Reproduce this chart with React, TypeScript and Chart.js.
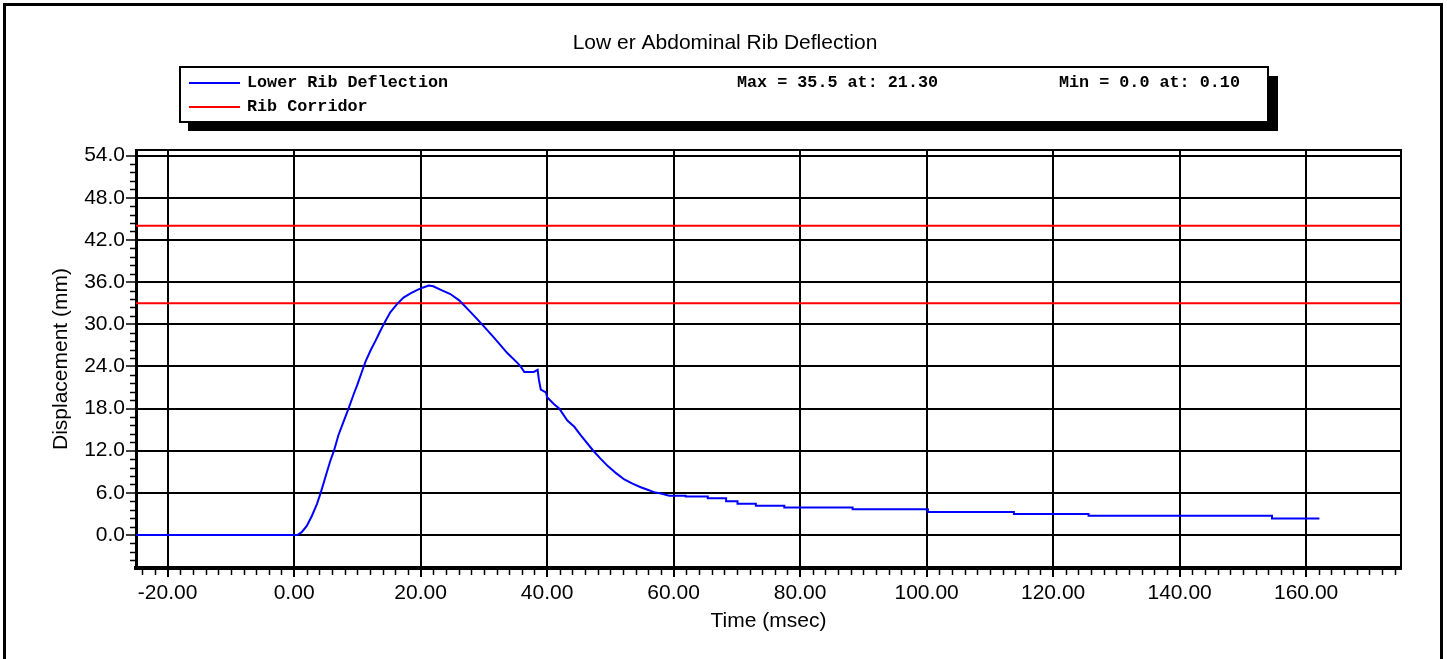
import React, { useEffect, useRef } from "react";
import { Chart, registerables } from "chart.js";

Chart.register(...registerables);

// ---------------- data ----------------
const chartTitle = "Low er Abdominal Rib Deflection";
const seriesLabel = "Lower Rib Deflection";
const corridorLabel = "Rib Corridor";
const xAxisTitle = "Time (msec)";
const yAxisTitle = "Displacement (mm)";

const timeMs = [
  -25, 0.5, 1.2, 2.0, 2.8, 3.6, 4.2, 4.9, 5.7, 6.3, 7.0, 7.8, 8.6, 9.4, 10.0, 10.7, 11.3, 12.1, 12.9,
  13.6, 14.4, 15.2, 16.3, 17.3, 18.4, 19.5, 20.3, 21.3, 22.0, 23.2, 24.7, 26.1, 27.6, 29.5, 31.6,
  33.7, 35.3, 35.8, 36.4, 37.9, 38.5, 38.7, 39.0, 39.8, 40.0, 41.1, 41.9, 43.2, 44.3, 45.3, 47.2,
  48.4, 49.6, 50.9, 52.2, 53.5, 54.8, 56.0, 56.9, 58.0, 59.3, 61.9, 61.9, 65.4, 65.4, 68.3, 68.3,
  70.1, 70.1, 73.0, 73.0, 77.5, 77.5, 88.3, 88.3, 100.2, 100.2, 113.8, 113.8, 125.6, 125.6, 154.6,
  154.6, 162.1,
];
const deflectionMm = [
  0, 0, 0.4, 1.3, 2.7, 4.4, 6.0, 8.1, 10.5, 12.0, 14.2, 16.1, 18.0, 20.0, 21.4, 23.2, 24.7, 26.3, 27.7,
  29.0, 30.4, 31.7, 32.9, 33.8, 34.4, 34.9, 35.2, 35.5, 35.4, 34.9, 34.3, 33.4, 32.0, 30.2, 28.1,
  25.9, 24.5, 24.0, 23.2, 23.2, 23.5, 22.1, 20.7, 20.3, 19.6, 18.6, 18.0, 16.3, 15.4, 14.2, 12.1,
  10.9, 9.8, 8.8, 7.9, 7.3, 6.8, 6.4, 6.1, 5.9, 5.6, 5.6, 5.48, 5.48, 5.24, 5.24, 4.8,
  4.8, 4.43, 4.43, 4.15, 4.15, 3.92, 3.92, 3.68, 3.68, 3.28, 3.28, 2.97, 2.97, 2.73, 2.73,
  2.36, 2.36,
];

const corridorTime = [-25, 175];
const corridorUpperMm = [44, 44];
const corridorLowerMm = [33, 33];

const maxDeflection = 35.5;
const maxDeflectionTime = 21.3;
const minDeflection = 0.0;
const minDeflectionTime = 0.1;

const xMin = -25;
const xMax = 175;
const xTickValues = [-20, 0, 20, 40, 60, 80, 100, 120, 140, 160];
const xMinorStep = 2;
const yMin = -4.7;
const yMax = 54.8;
const yTickValues = [0, 6, 12, 18, 24, 30, 36, 42, 48, 54];
const yMinorStep = 1.2;

// ---------------- style ----------------
const SANS = "'Liberation Sans', Arial, sans-serif";
const MONO = "'Liberation Mono', 'Courier New', monospace";
const W = 1447;
const H = 659;

const decorPlugin = {
  id: "decor",
  beforeDraw(chart: any) {
    const { ctx, width, height } = chart;
    ctx.save();
    ctx.fillStyle = "#ffffff";
    ctx.fillRect(0, 0, width, height);
    ctx.restore();
  },
  afterDraw(chart: any) {
    const { ctx, chartArea: a } = chart;
    const xs = chart.scales.x;
    const ys = chart.scales.y;
    ctx.save();

    // outer frame
    ctx.strokeStyle = "#000";
    ctx.lineWidth = 3;
    ctx.strokeRect(4.5, 4.5, 1437, 720);

    // top & right plot border
    ctx.lineWidth = 2;
    ctx.beginPath();
    ctx.moveTo(a.left, a.top);
    ctx.lineTo(a.right, a.top);
    ctx.lineTo(a.right, a.bottom);
    ctx.stroke();

    // minor ticks
    ctx.lineWidth = 1.5;
    ctx.beginPath();
    for (let k = Math.ceil(xMin / xMinorStep); k <= Math.floor(xMax / xMinorStep); k++) {
      const v = k * xMinorStep;
      if (xTickValues.some((t) => Math.abs(t - v) < 1e-9)) continue;
      const px = Math.round(xs.getPixelForValue(v)) + 0.5;
      ctx.moveTo(px, a.bottom + 2);
      ctx.lineTo(px, a.bottom + 7);
    }
    for (let k = Math.ceil(yMin / yMinorStep); k <= Math.floor(yMax / yMinorStep); k++) {
      const v = k * yMinorStep;
      if (yTickValues.some((t) => Math.abs(t - v) < 1e-6)) continue;
      const py = Math.round(ys.getPixelForValue(v)) + 0.5;
      ctx.moveTo(a.left - 1, py);
      ctx.lineTo(a.left - 6, py);
    }
    ctx.stroke();

    // title
    ctx.fillStyle = "#000";
    ctx.font = `21px ${SANS}`;
    ctx.textAlign = "center";
    ctx.textBaseline = "alphabetic";
    ctx.fillText(chartTitle, 725, 49);

    // legend box with shadow
    const bx = 180, by = 67, bw = 1088, bh = 55;
    ctx.fillStyle = "#000";
    ctx.fillRect(bx + 8, by + bh, bw + 2, 9);
    ctx.fillRect(bx + bw, by + 9, 10, bh);
    ctx.fillStyle = "#fff";
    ctx.fillRect(bx, by, bw, bh);
    ctx.strokeStyle = "#000";
    ctx.lineWidth = 2;
    ctx.strokeRect(bx, by, bw, bh);

    const ds = chart.data.datasets;
    ctx.lineWidth = 2;
    ctx.strokeStyle = ds[0].borderColor;
    ctx.beginPath();
    ctx.moveTo(189, 83);
    ctx.lineTo(240, 83);
    ctx.stroke();
    ctx.strokeStyle = ds[1].borderColor;
    ctx.beginPath();
    ctx.moveTo(189, 107);
    ctx.lineTo(240, 107);
    ctx.stroke();

    ctx.fillStyle = "#000";
    ctx.font = `bold 16.75px ${MONO}`;
    ctx.textAlign = "left";
    ctx.textBaseline = "alphabetic";
    ctx.fillText(ds[0].label, 247, 87);
    ctx.fillText(ds[1].label, 247, 111);
    ctx.fillText(`Max = ${maxDeflection.toFixed(1)} at: ${maxDeflectionTime.toFixed(2)}`, 737, 87);
    ctx.fillText(`Min = ${minDeflection.toFixed(1)} at: ${minDeflectionTime.toFixed(2)}`, 1059, 87);

    ctx.restore();
  },
};

export default function App() {
  const canvasRef = useRef<HTMLCanvasElement | null>(null);

  useEffect(() => {
    if (!canvasRef.current) return;
    const font = { family: SANS, size: 21 };
    const chart = new Chart(canvasRef.current, {
      type: "line",
      data: {
        datasets: [
          {
            label: seriesLabel,
            data: timeMs.map((t, i) => ({ x: t, y: deflectionMm[i] })),
            borderColor: "#0000ff",
            borderWidth: 2,
            pointRadius: 0,
            tension: 0,
          },
          {
            label: corridorLabel,
            data: corridorTime.map((t, i) => ({ x: t, y: corridorUpperMm[i] })),
            borderColor: "#ff0000",
            borderWidth: 2,
            pointRadius: 0,
          },
          {
            label: corridorLabel,
            data: corridorTime.map((t, i) => ({ x: t, y: corridorLowerMm[i] })),
            borderColor: "#ff0000",
            borderWidth: 2,
            pointRadius: 0,
          },
        ],
      },
      options: {
        responsive: false,
        animation: false,
        events: [],
        layout: { padding: { top: 150, right: 46, left: 0, bottom: 0 } },
        plugins: {
          legend: { display: false },
          title: { display: false },
          tooltip: { enabled: false },
        },
        scales: {
          x: {
            type: "linear",
            min: xMin,
            max: xMax,
            afterFit: (s: any) => {
              s.height = 91;
            },
            afterBuildTicks: (s: any) => {
              s.ticks = xTickValues.map((v) => ({ value: v }));
            },
            ticks: {
              autoSkip: false,
              maxRotation: 0,
              padding: 4,
              color: "#000",
              font,
              callback: (v: any) => Number(v).toFixed(2),
            },
            grid: {
              color: "#000",
              lineWidth: 2,
              drawTicks: true,
              tickLength: 9,
              tickColor: "#000",
              tickWidth: 2,
            },
            border: { display: true, color: "#000", width: 4 },
            title: {
              display: true,
              text: xAxisTitle,
              color: "#000",
              font,
              padding: { top: 0, bottom: 25 },
            },
          },
          y: {
            type: "linear",
            min: yMin,
            max: yMax,
            afterFit: (s: any) => {
              s.width = 136;
            },
            afterBuildTicks: (s: any) => {
              s.ticks = yTickValues.map((v) => ({ value: v }));
            },
            ticks: {
              autoSkip: false,
              padding: 1,
              color: "#000",
              font,
              callback: (v: any) => Number(v).toFixed(1),
            },
            grid: {
              color: "#000",
              lineWidth: 2,
              drawTicks: true,
              tickLength: 10,
              tickColor: "#000",
              tickWidth: 1.5,
            },
            border: { display: true, color: "#000", width: 3 },
            title: {
              display: true,
              text: yAxisTitle,
              color: "#000",
              font,
              padding: { top: 49, bottom: 0 },
            },
          },
        },
      },
      plugins: [decorPlugin],
    } as any);
    return () => chart.destroy();
  }, []);

  return (
    <div style={{ position: "absolute", left: 0, top: 0, width: W, height: H }}>
      <canvas ref={canvasRef} width={W} height={H} style={{ display: "block" }} />
    </div>
  );
}
